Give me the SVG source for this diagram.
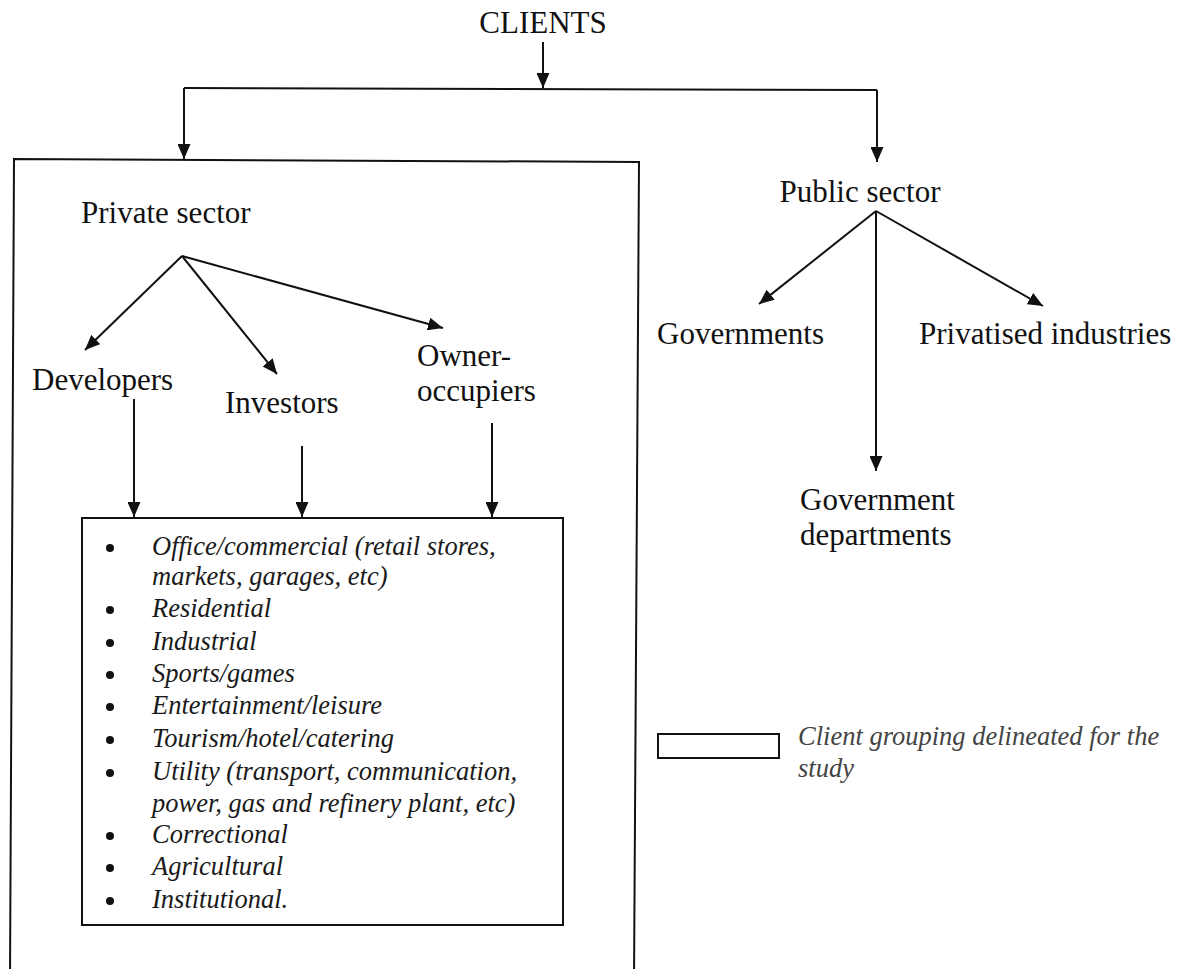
<svg xmlns="http://www.w3.org/2000/svg" width="1190" height="969" viewBox="0 0 1190 969">
<defs>
<marker id="ah" markerUnits="userSpaceOnUse" markerWidth="15" markerHeight="13" refX="15" refY="6.5" orient="auto">
<path d="M0,0 L15,6.5 L0,13 z" fill="#111"/>
</marker>
<style>
.lbl{font-family:"Liberation Serif","Times New Roman",serif;font-size:31px;fill:#111}
.it{font-family:"Liberation Serif","Times New Roman",serif;font-size:26.5px;font-style:italic;fill:#1a1a1a}
.leg{font-family:"Liberation Serif","Times New Roman",serif;font-size:26.5px;font-style:italic;fill:#444}
.ln{stroke:#111;stroke-width:2;fill:none}
.arr{stroke:#111;stroke-width:2;fill:none;marker-end:url(#ah)}
.box{stroke:#111;stroke-width:2;fill:none}
</style>
</defs>
<rect width="1190" height="969" fill="#fff"/>

<g id="connectors">
<line class="arr" x1="543" y1="42" x2="543" y2="88"/>
<line class="ln" x1="184" y1="88" x2="877" y2="90"/>
<line class="arr" x1="184" y1="88" x2="184" y2="159"/>
<line class="arr" x1="877" y1="90" x2="877" y2="162"/>
<line class="arr" x1="182" y1="256" x2="85" y2="350"/>
<line class="arr" x1="182" y1="256" x2="277" y2="374"/>
<line class="arr" x1="182" y1="256" x2="443" y2="328"/>
<line class="arr" x1="134" y1="399" x2="134" y2="517"/>
<line class="arr" x1="302" y1="446" x2="302" y2="517"/>
<line class="arr" x1="492" y1="423" x2="492" y2="517"/>
<line class="arr" x1="876" y1="211" x2="759" y2="304"/>
<line class="arr" x1="876" y1="211" x2="1043" y2="306"/>
<line class="arr" x1="876" y1="211" x2="876" y2="471"/>
</g>

<g id="clients">
<text class="lbl" x="543" y="33" text-anchor="middle">CLIENTS</text>
</g>

<g id="private-grouping">
<path class="box" d="M10,980 L14,159 L639,162 L634,980"/>
</g>

<g id="private-sector">
<text class="lbl" x="81" y="223">Private sector</text>
</g>
<g id="developers">
<text class="lbl" x="32" y="390">Developers</text>
</g>
<g id="investors">
<text class="lbl" x="225" y="413">Investors</text>
</g>
<g id="owner-occupiers">
<text class="lbl" x="417" y="366">Owner-</text>
<text class="lbl" x="417" y="401">occupiers</text>
</g>

<g id="building-types">
<rect class="box" x="82" y="518" width="481" height="407"/>
<g fill="#111">
<circle cx="110" cy="548" r="4"/>
<circle cx="110" cy="610" r="4"/>
<circle cx="110" cy="643" r="4"/>
<circle cx="110" cy="675" r="4"/>
<circle cx="110" cy="707" r="4"/>
<circle cx="110" cy="740" r="4"/>
<circle cx="110" cy="773" r="4"/>
<circle cx="110" cy="836" r="4"/>
<circle cx="110" cy="868" r="4"/>
<circle cx="110" cy="901" r="4"/>
</g>
<text class="it" x="152" y="555">Office/commercial (retail stores,</text>
<text class="it" x="152" y="585">markets, garages, etc)</text>
<text class="it" x="152" y="617">Residential</text>
<text class="it" x="152" y="650">Industrial</text>
<text class="it" x="152" y="682">Sports/games</text>
<text class="it" x="152" y="714">Entertainment/leisure</text>
<text class="it" x="152" y="747">Tourism/hotel/catering</text>
<text class="it" x="152" y="780">Utility (transport, communication,</text>
<text class="it" x="152" y="812">power, gas and refinery plant, etc)</text>
<text class="it" x="152" y="843">Correctional</text>
<text class="it" x="152" y="875">Agricultural</text>
<text class="it" x="152" y="908">Institutional.</text>
</g>

<g id="public-sector">
<text class="lbl" x="860" y="202" text-anchor="middle">Public sector</text>
</g>
<g id="governments">
<text class="lbl" x="657" y="344">Governments</text>
</g>
<g id="privatised-industries">
<text class="lbl" x="919" y="344">Privatised industries</text>
</g>
<g id="government-departments">
<text class="lbl" x="800" y="510">Government</text>
<text class="lbl" x="800" y="545">departments</text>
</g>

<g id="legend">
<rect class="box" x="658" y="734" width="121" height="24"/>
<text class="leg" x="798" y="745">Client grouping delineated for the</text>
<text class="leg" x="798" y="777">study</text>
</g>
</svg>
